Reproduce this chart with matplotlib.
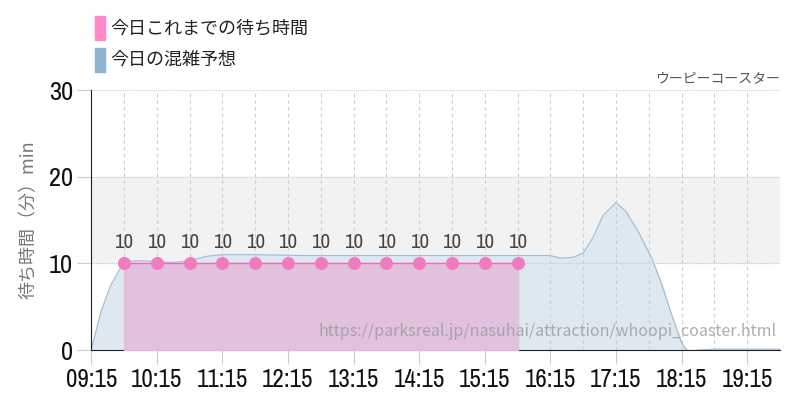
import matplotlib.pyplot as plt
from matplotlib.patches import Rectangle
from matplotlib import font_manager

plt.rcParams['font.family'] = ['Noto Sans CJK JP', 'DejaVu Sans']

names = sorted(set(f.name for f in font_manager.fontManager.ttflist))
cond = [n for n in names if 'Condensed' in n or 'Narrow' in n]
num_font = cond[0] if cond else 'DejaVu Sans'

# actual wait times (hours of day, minutes)
actual_t = [9.75, 10.25, 10.75, 11.25, 11.75, 12.25, 12.75, 13.25, 13.75, 14.25, 14.75, 15.25, 15.75]
actual_v = [10, 10, 10, 10, 10, 10, 10, 10, 10, 10, 10, 10, 10]

# forecast curve
fc_t = [9.25, 9.4, 9.55, 9.75, 10.0, 10.5, 10.75, 11.0, 11.25, 11.75, 12.5, 14.0, 16.0, 16.25, 16.4,
        16.6, 16.75, 16.9, 17.05, 17.25, 17.4, 17.6, 17.8, 17.95, 18.1, 18.25, 18.35, 18.5, 18.75, 19.75]
fc_v = [0, 4.5, 7.5, 10.2, 10.3, 10.1, 10.3, 10.8, 11.0, 11.0, 10.9, 10.9, 10.9, 10.9, 10.6,
        10.7, 11.2, 13.0, 15.5, 17.0, 16.0, 13.5, 10.5, 7.5, 4.0, 0.8, -0.2, 0.0, 0.1, 0.1]

xticks = [9.25 + i for i in range(11)]
xlabels = ['%02d:15' % int(t) for t in xticks]
yticks = [0, 10, 20, 30]

fig = plt.figure(figsize=(8, 4), dpi=100)
ax = fig.add_axes([0.114, 0.125, 0.861, 0.65])

ax.axhspan(10, 20, color='#f2f2f2', zorder=0)
ax.fill_between(fc_t, fc_v, color='#dde8f1', zorder=1)
ax.plot(fc_t, fc_v, color='#9fbcd6', lw=0.8, zorder=2)
ax.fill_between(actual_t, actual_v, step='post', color='#e2bfdd', zorder=3, alpha=0.95)
ax.plot(actual_t, actual_v, color='#f06cb8', lw=1, zorder=4)
ax.scatter(actual_t, actual_v, s=70, color='#f07cbf', zorder=5)
for t, v in zip(actual_t, actual_v):
    ax.text(t, v + 1.3, str(v), ha='center', va='bottom', fontsize=15, color='#444444',
            family=num_font, stretch='condensed')

for t in [9.25 + 0.5 * i for i in range(22)]:
    ax.axvline(t, color='#cccccc', lw=0.8, ls=(0, (3, 3)), zorder=2.5)
for y in [10, 20, 30]:
    ax.axhline(y, color='#cccccc', lw=0.8, ls=(0, (1, 1)), zorder=2.5)

ax.set_xlim(9.25, 19.75)
ax.set_ylim(0, 30)
ax.set_xticks(xticks)
ax.set_xticklabels(xlabels, family=num_font, stretch='condensed', fontsize=18, color='#111111')
ax.set_yticks(yticks)
ax.set_yticklabels([str(y) for y in yticks], family=num_font, stretch='condensed', fontsize=19, color='#111111')
ax.tick_params(axis='x', length=10, color='#cccccc', pad=3)
ax.tick_params(axis='y', length=10, color='#cccccc', pad=3)
for s in ['top', 'right']:
    ax.spines[s].set_visible(False)
ax.spines['left'].set_color('#222222')
ax.spines['bottom'].set_color('#222222')
ax.set_ylabel('待ち時間（分）min', fontsize=13, color='#777777', labelpad=8)

ax.text(1.0, 1.02, 'ウーピーコースター', transform=ax.transAxes, ha='right', va='bottom', fontsize=10, color='#555555')
ax.text(0.995, 0.04, 'https://parksreal.jp/nasuhai/attraction/whoopi_coaster.html', transform=ax.transAxes,
        ha='right', va='bottom', fontsize=11.5, color='#999999', alpha=0.8, zorder=6)

# legend
fig.patches.append(Rectangle((95 / 800, 1 - 40 / 400), 10 / 800, 24 / 400, transform=fig.transFigure, color='#ff88c8'))
fig.patches.append(Rectangle((95 / 800, 1 - 72 / 400), 10 / 800, 24 / 400, transform=fig.transFigure, color='#8fb4d2'))
fig.text(110 / 800, 1 - 28 / 400, '今日これまでの待ち時間', fontsize=13, va='center', color='#222222')
fig.text(110 / 800, 1 - 60 / 400, '今日の混雑予想', fontsize=13, va='center', color='#222222')

fig.savefig('out.png')
